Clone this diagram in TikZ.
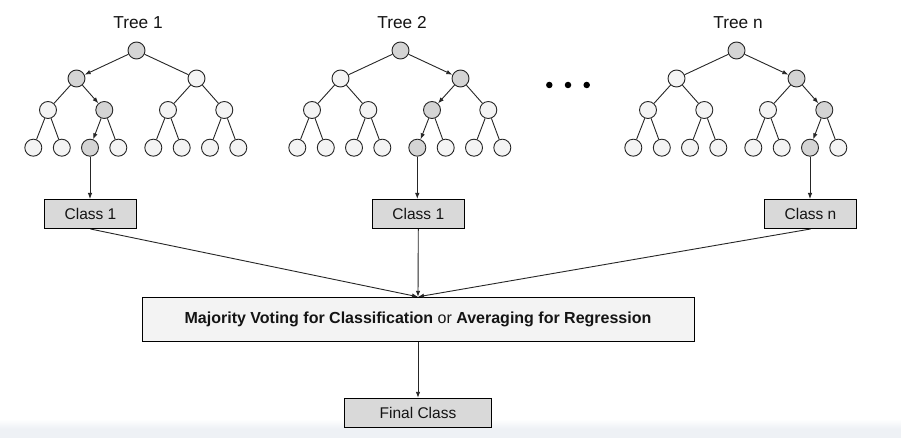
\documentclass[tikz,border=0pt]{standalone}
\usepackage{fontspec}
\setmainfont{Liberation Sans}
\usetikzlibrary{arrows.meta}
\definecolor{edgecol}{HTML}{262626}
\definecolor{lightfill}{HTML}{F4F4F4}
\definecolor{hlfill}{HTML}{D4D4D4}
\definecolor{boxfill}{HTML}{D9D9D9}
\definecolor{majfill}{HTML}{F3F3F3}
\definecolor{bandcol}{HTML}{EEF1F5}
\definecolor{txtcol}{HTML}{141414}
\tikzset{
  treenode/.style={circle, draw=edgecol, line width=0.9pt, minimum size=17pt, inner sep=0pt},
  plainnode/.style={treenode, fill=lightfill},
  hlnode/.style={treenode, fill=hlfill},
  edge/.style={draw=edgecol, line width=0.9pt},
  arr/.style={edge, -{Latex[length=6pt,width=4.5pt]}},
  treetitle/.style={inner sep=0pt, text=txtcol, font=\fontsize{17.3}{20}\selectfont},
  classbox/.style={rectangle, draw=black, line width=1pt, fill=boxfill, minimum width=92pt, minimum height=29pt, inner sep=0pt, text=txtcol, font=\fontsize{15.5}{18}\selectfont},
  majbox/.style={rectangle, draw=black, line width=1pt, fill=majfill, minimum width=552pt, minimum height=44pt, inner sep=0pt, text=txtcol, font=\fontsize{16}{19}\selectfont},
  finalbox/.style={classbox, minimum width=147pt},
  dotnode/.style={circle, fill=black, minimum size=6.5pt, inner sep=0pt},
}
\newcommand\mktree[4]{%
  \node[treetitle] (#1-title) at (#2+138,23) {#3};
  \foreach \k/\x/\y/\d in {1/136.5/50.5/0, 2/76.5/78.5/1, 3/196.5/78.5/1,
      4/48/110/2, 5/104.3/110/2, 6/168/110/2, 7/224.3/110/2,
      8/33.3/147.7/3, 9/61.8/147.7/3, 10/90/147.7/3, 11/118.3/147.7/3,
      12/153.3/147.7/3, 13/181.7/147.7/3, 14/210/147.7/3, 15/238.3/147.7/3}{%
    \pgfmathtruncatemacro\anc{#4/(2^(3-\d))}%
    \ifnum\anc=\k\relax\tikzset{cur/.style={hlnode}}\else\tikzset{cur/.style={plainnode}}\fi
    \node[cur] (#1-\k) at (#2+\x,\y) {};
  }
  \foreach \k/\d in {2/1,3/1,4/2,5/2,6/2,7/2,8/3,9/3,10/3,11/3,12/3,13/3,14/3,15/3}{%
    \pgfmathtruncatemacro\pk{\k/2}%
    \pgfmathtruncatemacro\anc{#4/(2^(3-\d))}%
    \ifnum\anc=\k\relax\tikzset{curedge/.style={arr}}\else\tikzset{curedge/.style={edge}}\fi
    \draw[curedge] (#1-\pk) -- (#1-\k);
  }
}
\begin{document}
\begin{tikzpicture}[x=1pt,y=-1pt]
\useasboundingbox (0,0) rectangle (901,438);
\fill[white] (0,0) rectangle (901,438);
\shade[top color=white, bottom color=bandcol] (0,419) rectangle (901,428.5);
\fill[bandcol] (0,428.5) rectangle (901,438);

\mktree{ta}{0}{Tree 1}{10}
\mktree{tb}{264}{Tree 2}{12}
\mktree{tn}{600}{Tree n}{14}

\node[dotnode] (dot1) at (549.3,85) {};
\node[dotnode] (dot2) at (568,85) {};
\node[dotnode] (dot3) at (586.7,85) {};

\node[classbox] (ca) at (90.5,214) {Class 1};
\node[classbox] (cb) at (418.3,214) {Class 1};
\node[classbox] (cn) at (810.5,214) {Class n};

\node[majbox] (maj) at (418,319.3) {\textbf{Majority Voting for Classification} or \textbf{Averaging for Regression}};
\node[finalbox] (fin) at (418,412.8) {Final Class};

\draw[arr] (ta-10.south) -- (ta-10.south |- ca.north);
\draw[arr] (tb-12.south) -- (tb-12.south |- cb.north);
\draw[arr] (tn-14.south) -- (tn-14.south |- cn.north);

\draw[arr] (ca.south) -- (maj.north);
\draw[arr] (cb.south) -- (maj.north);
\draw[arr] (cn.south) -- (maj.north);
\draw[arr] (maj.south) -- (fin.north);
\end{tikzpicture}
\end{document}
